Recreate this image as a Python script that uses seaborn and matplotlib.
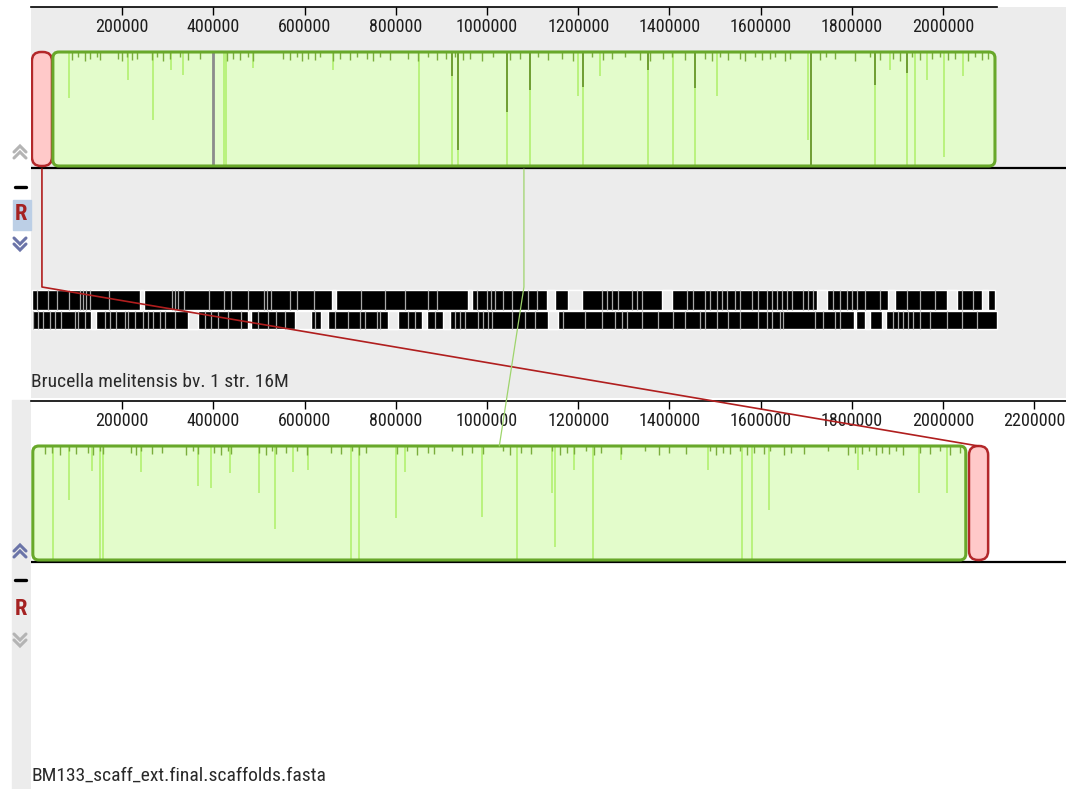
import matplotlib
matplotlib.use("Agg")
import matplotlib.pyplot as plt
import matplotlib.transforms as mtransforms
from matplotlib import font_manager
from matplotlib.patches import FancyBboxPatch, Rectangle
from matplotlib.lines import Line2D
import seaborn as sns

# ------------------------------------------------------------------ data
ref_name = "Brucella melitensis bv. 1 str. 16M"
qry_name = "BM133_scaff_ext.final.scaffolds.fasta"
ref_length = 2118000
top_ticks = [200000, 400000, 600000, 800000, 1000000, 1200000, 1400000,
             1600000, 1800000, 2000000]
bot_ticks = [200000, 400000, 600000, 800000, 1000000, 1200000, 1400000,
             1600000, 1800000, 2000000, 2200000]

# locally collinear blocks (kb): [red LCB, green LCB]
lcb_names = ["red", "green"]
ref_lcb_start_kb = [2, 48]
ref_lcb_end_kb = [46, 2114]
qry_lcb_start_kb = [2057, 4]
qry_lcb_end_kb = [2099, 2050]

# reference annotation track (forward / reverse genes), gaps between genes (kb)
fwd_track_kb = (2, 2114)
fwd_thin_gaps_kb = [13, 37, 57, 83, 107, 114, 121, 129, 171, 309, 316, 322, 336, 390,
                    423, 439, 476, 511, 518, 526, 568, 583, 620, 724, 776, 820, 871,
                    890, 978, 1000, 1009, 1018, 1035, 1055, 1090, 1110, 1252, 1263,
                    1274, 1287, 1318, 1329, 1340, 1439, 1452, 1478, 1489, 1504, 1515,
                    1526, 1544, 1555, 1581, 1594, 1614, 1625, 1636, 1647, 1658, 1669,
                    1693, 1704, 1715, 1759, 1774, 1789, 1800, 1811, 1829, 1862, 1921,
                    1950, 1982, 2042, 2066]
fwd_wide_gaps_kb = [(240, 247), (660, 668), (958, 968), (1132, 1149), (1178, 1208),
                    (1384, 1406), (1724, 1746), (1879, 1895), (2009, 2031), (2085, 2099)]
rev_track_kb = (2, 2118)
rev_thin_gaps_kb = [4, 15, 26, 42, 53, 66, 96, 103, 118, 162, 173, 186, 206, 213, 228,
                    246, 257, 268, 283, 294, 316, 382, 395, 410, 432, 461, 498, 520,
                    537, 557, 623, 667, 695, 721, 732, 759, 765, 827, 842, 886, 930,
                    941, 952, 980, 991, 1002, 1011, 1055, 1083, 1105, 1167, 1215, 1252,
                    1281, 1296, 1307, 1340, 1375, 1408, 1434, 1467, 1478, 1504, 1529,
                    1555, 1594, 1614, 1625, 1643, 1649, 1719, 1737, 1763, 1774, 1890,
                    1901, 1912, 1923, 1934, 1950, 1971, 2009, 2042, 2075]
rev_wide_gaps_kb = [(132, 143), (344, 366), (476, 482), (579, 614), (636, 651),
                    (783, 805), (857, 868), (903, 919), (1134, 1156), (1805, 1810),
                    (1829, 1840), (1866, 1875)]

# similarity profile of the green LCB, reference genome (kb, depth fraction)
top_light_partial_kb = [83, 213, 268, 307, 333, 487, 662, 1200, 1248, 1504, 1704,
                        1884, 1965, 2002, 2044]
top_light_partial_depth = [0.40, 0.25, 0.60, 0.16, 0.20, 0.14, 0.16, 0.39, 0.21,
                           0.39, 0.77, 0.16, 0.25, 0.92, 0.21]
top_light_full_kb = [423, 428, 851, 923, 936, 1044, 1094, 1211, 1353, 1408, 1456,
                     1851, 1921, 1939]
top_dark_kb = [923, 936, 1044, 1094, 1211, 1353, 1456, 1851, 1921, 1711]
top_dark_depth = [0.21, 0.86, 0.53, 0.33, 0.31, 0.16, 0.32, 0.29, 0.18, 1.0]
top_gray_kb = [399, 402]
top_fuzz = [(90, .05), (103, .03), (118, .06), (129, .04), (145, .03), (151, .05),
            (191, .04), (200, .06), (211, .03), (221, .05), (232, .04), (265, .05),
            (276, .03), (289, .06), (305, .04), (327, .03), (344, .05), (371, .04),
            (430, .06), (443, .04), (458, .05), (476, .03), (487, .06), (553, .04),
            (568, .05), (583, .03), (594, .06), (607, .04), (623, .05), (634, .03),
            (662, .06), (678, .04), (700, .05), (715, .03), (737, .04), (750, .06),
            (765, .03), (787, .05), (827, .04), (849, .06), (871, .03), (890, .05),
            (910, .04), (930, .03), (947, .05), (963, .04), (989, .06), (1013, .03),
            (1050, .05), (1072, .04), (1112, .03), (1134, .05), (1165, .04),
            (1189, .06), (1230, .03), (1254, .05), (1274, .04), (1303, .03),
            (1336, .05), (1357, .06), (1386, .04), (1406, .03), (1434, .05),
            (1478, .04), (1493, .06), (1511, .03), (1529, .05), (1555, .04),
            (1566, .06), (1588, .03), (1603, .05), (1621, .04), (1632, .03),
            (1654, .06), (1665, .04), (1730, .05), (1743, .03), (1763, .04),
            (1807, .06), (1840, .03), (1862, .05), (1890, .04), (1906, .06),
            (1932, .03), (1950, .05), (1976, .04), (1993, .03), (2011, .05),
            (2026, .04), (2055, .06), (2071, .03), (2085, .05), (2099, .04)]

# similarity profile of the green LCB, assembly
bot_light_partial_kb = [83, 134, 241, 366, 395, 436, 500, 535, 575, 607, 800, 820,
                        989, 1143, 1149, 1191, 1294, 1485, 1618, 1814, 1947, 2009]
bot_light_partial_depth = [0.47, 0.22, 0.23, 0.35, 0.37, 0.24, 0.41, 0.73, 0.23,
                           0.21, 0.63, 0.23, 0.62, 0.41, 0.89, 0.21, 0.12, 0.21,
                           0.56, 0.21, 0.41, 0.41]
bot_light_full_kb = [48, 151, 158, 702, 719, 1066, 1232, 1559, 1581]
bot_fuzz = [(31, .05), (46, .04), (64, .06), (83, .03), (99, .05), (125, .04),
            (136, .06), (151, .03), (158, .05), (219, .04), (230, .06), (241, .03),
            (265, .05), (287, .04), (340, .06), (355, .03), (366, .05), (401, .04),
            (417, .06), (432, .03), (439, .05), (500, .04), (515, .06), (529, .03),
            (537, .05), (559, .04), (583, .03), (605, .06), (658, .04), (680, .05),
            (704, .03), (719, .06), (735, .04), (803, .05), (825, .03), (847, .06),
            (871, .04), (884, .05), (923, .03), (945, .06), (967, .04), (991, .05),
            (1035, .03), (1050, .06), (1075, .04), (1097, .05), (1143, .03),
            (1160, .06), (1175, .04), (1191, .05), (1217, .03), (1235, .06),
            (1250, .04), (1294, .05), (1347, .03), (1377, .06), (1399, .04),
            (1436, .05), (1489, .03), (1502, .06), (1518, .04), (1533, .05),
            (1555, .03), (1570, .06), (1586, .04), (1607, .05), (1621, .03),
            (1651, .06), (1667, .04), (1695, .05), (1748, .03), (1792, .06),
            (1807, .04), (1822, .05), (1838, .03), (1853, .06), (1866, .04),
            (1882, .05), (1897, .03), (1912, .06), (1950, .04), (1971, .05),
            (1993, .03), (2015, .06), (2037, .04)]

# ------------------------------------------------------------------ style
sns.set_theme(style="white")
fonts = font_manager.fontManager.ttflist
names = {f.name for f in fonts}
dejavu_cond = any(f.name == "DejaVu Sans" and "condensed" in str(f.stretch).lower()
                  for f in fonts)
STRETCH = "normal"
if "Liberation Sans Narrow" in names:
    FAM, FS, FL = "Liberation Sans Narrow", 1.0, 0.97
elif "Roboto Condensed" in names:
    FAM, FS, FL = "Roboto Condensed", 0.95, 0.91
elif dejavu_cond:
    FAM, FS, FL, STRETCH = "DejaVu Sans", 0.82, 0.80, "condensed"
else:
    FAM, FS, FL = "DejaVu Sans", 0.74, 0.72
plt.rcParams["font.family"] = [FAM, "DejaVu Sans"]
plt.rcParams["font.stretch"] = STRETCH

W, H = 1066, 789
BP_PER_PX = 2193.0
fig = plt.figure(figsize=(W / 100, H / 100), dpi=100, facecolor="white")


def fig_rect(x0, y0, x1, y1):
    return [x0 / W, 1 - y1 / H, (x1 - x0) / W, (y1 - y0) / H]


ax_top = fig.add_axes(fig_rect(31, 7, 1066, 398))
ax_bot = fig.add_axes(fig_rect(31, 401, 1066, 789))
XMAX = (1066 - 31) * BP_PER_PX

LCB_FACE = {"red": "#ffc9c9", "green": "#e3fccb"}
LCB_EDGE = {"red": "#b3282a", "green": "#68a82a"}
LCB_RAD = {"red": 9, "green": 6}
LCB_LW = {"red": 1.8, "green": 2.2}
BLOCK_Y, BLOCK_H = 45, 114
BASE_Y = 161

for ax, ylim_top, bg in [(ax_top, 391, "#ececec"), (ax_bot, 388, "white")]:
    ax.set_facecolor(bg)
    ax.set_xlim(0, XMAX)
    ax.set_ylim(ylim_top, 0)
    ax.set_yticks([])
    for s in ["left", "right", "bottom"]:
        ax.spines[s].set_visible(False)
    ax.spines["top"].set_color("black")
    ax.spines["top"].set_linewidth(1.2)
    ax.xaxis.tick_top()
    ax.tick_params(axis="x", which="major", top=True, bottom=False, labeltop=True,
                   labelbottom=False, direction="in", length=6, width=1,
                   color="black", pad=-(20 * FS + 2), labelsize=13.7 * FS,
                   labelcolor="#1e1e1e")
    ax.axhline(BASE_Y, color="black", lw=1.6, zorder=4)

ax_top.set_xticks(top_ticks)
ax_top.set_xticklabels([str(t) for t in top_ticks])
ax_top.spines["top"].set_bounds(0, ref_length)
ax_bot.set_xticks(bot_ticks)
ax_bot.set_xticklabels([str(t) for t in bot_ticks])
ax_bot.spines["top"].set_bounds(0, XMAX)


def draw_block(ax, start_kb, end_kb, kind):
    s, e = start_kb * 1000, end_kb * 1000
    r = LCB_RAD[kind] * BP_PER_PX
    style = f"round,pad=0,rounding_size={r}"
    fill = FancyBboxPatch((s, BLOCK_Y), e - s, BLOCK_H, boxstyle=style,
                          mutation_aspect=1 / BP_PER_PX, fc=LCB_FACE[kind],
                          ec="none", zorder=1)
    ax.add_patch(fill)
    edge = FancyBboxPatch((s, BLOCK_Y), e - s, BLOCK_H, boxstyle=style,
                          mutation_aspect=1 / BP_PER_PX, fc="none",
                          ec=LCB_EDGE[kind], lw=LCB_LW[kind], zorder=5)
    ax.add_patch(edge)
    return fill


def draw_profile(ax, clip, light_p, light_d, light_full, dark=None, dark_d=None,
                 gray=None, fuzz=None):
    arts = []
    y0 = BLOCK_Y
    arts.append(ax.vlines([k * 1000 for k in light_full], y0, y0 + BLOCK_H,
                          color="#aeef68", lw=1.1, zorder=2))
    arts.append(ax.vlines([k * 1000 for k in light_p], y0,
                          [y0 + d * BLOCK_H for d in light_d],
                          color="#aeef68", lw=1.1, zorder=2))
    if dark:
        arts.append(ax.vlines([k * 1000 for k in dark], y0,
                              [y0 + d * BLOCK_H for d in dark_d],
                              color="#6f9e33", lw=1.4, zorder=3))
    if gray:
        arts.append(ax.vlines([k * 1000 for k in gray], y0, y0 + BLOCK_H,
                              color="#8c8c8c", lw=1.3, zorder=3))
    if fuzz:
        arts.append(ax.vlines([k * 1000 for k, _ in fuzz], y0,
                              [y0 + 2 + d * BLOCK_H for _, d in fuzz],
                              color="#7aad3c", lw=1.0, zorder=3))
    for a in arts:
        a.set_clip_path(clip)


# reference genome blocks
fills_top = {}
for name, s, e in zip(lcb_names, ref_lcb_start_kb, ref_lcb_end_kb):
    fills_top[name] = draw_block(ax_top, s, e, name)
draw_profile(ax_top, fills_top["green"], top_light_partial_kb, top_light_partial_depth,
             top_light_full_kb, top_dark_kb, top_dark_depth, top_gray_kb, top_fuzz)

# assembly blocks
fills_bot = {}
for name, s, e in zip(lcb_names, qry_lcb_start_kb, qry_lcb_end_kb):
    fills_bot[name] = draw_block(ax_bot, s, e, name)
draw_profile(ax_bot, fills_bot["green"], bot_light_partial_kb, bot_light_partial_depth,
             bot_light_full_kb, fuzz=bot_fuzz)


# annotation track
def draw_track(ax, span, thin, wide, y0, h):
    ax.barh(y0 + h / 2, (span[1] - span[0]) * 1000, left=span[0] * 1000, height=h,
            color="black", zorder=2)
    ax.vlines([k * 1000 for k in thin], y0, y0 + h, color="#a8a8a8", lw=0.9, zorder=3)
    for a, b in wide:
        ax.barh(y0 + h / 2, (b - a) * 1000, left=a * 1000, height=h,
                color="#ececec", zorder=3)


draw_track(ax_top, fwd_track_kb, fwd_thin_gaps_kb, fwd_wide_gaps_kb, 283, 20)
draw_track(ax_top, rev_track_kb, rev_thin_gaps_kb, rev_wide_gaps_kb, 304, 18)

# genome names
ax_top.text(1000, 375, ref_name, ha="left", va="center", fontsize=15.4 * FL,
            color="#2a2a2a", zorder=6)
ax_bot.text(1000, 375, qry_name, ha="left", va="center", fontsize=15.4 * FL,
            color="#2a2a2a", zorder=6)

# LCB connection lines
to_fig = fig.transFigure.inverted()
LINE_C = {"red": "#b01e1e", "green": "#9ed46c"}
LINE_W = {"red": 1.2, "green": 0.9}
for name, rs, re_, qs, qe in zip(lcb_names, ref_lcb_start_kb, ref_lcb_end_kb,
                                 qry_lcb_start_kb, qry_lcb_end_kb):
    rc = (rs + re_) / 2 * 1000
    qc = (qs + qe) / 2 * 1000
    p1 = to_fig.transform(ax_top.transData.transform((rc, BASE_Y + 1)))
    p2 = to_fig.transform(ax_top.transData.transform((rc, 280)))
    p3 = to_fig.transform(ax_bot.transData.transform((qc, BLOCK_Y)))
    fig.add_artist(Line2D([p1[0], p2[0], p3[0]], [p1[1], p2[1], p3[1]],
                          transform=fig.transFigure, color=LINE_C[name],
                          lw=LINE_W[name], zorder=20))

# ------------------------------------------------------------------ side controls
tr_px = mtransforms.Affine2D().scale(1 / W, -1 / H).translate(0, 1) + fig.transFigure
fig.add_artist(Rectangle((12, 400), 19, 389, transform=tr_px, color="#ececec",
                         zorder=0))
fig.add_artist(Rectangle((13, 200), 18, 30, transform=tr_px, color="#bccfe6",
                         zorder=1))


def chevron(x, y, up, color):
    d = -1 if up else 1
    for off in (0, 6):
        yy = y + (off if up else -off)
        fig.add_artist(Line2D([x - 6, x, x + 6], [yy, yy + 6 * d, yy],
                              transform=tr_px, color=color, lw=2.2,
                              solid_joinstyle="miter", zorder=2))


chevron(20, 152, True, "#b4b4b4")
chevron(20, 244, False, "#6b74a8")
chevron(20, 551, True, "#6b74a8")
chevron(20, 640, False, "#b4b4b4")
for yy in (187, 580):
    fig.add_artist(Line2D([15, 26], [yy, yy], transform=tr_px, color="black", lw=2.4,
                          zorder=2))
for yy in (214, 609):
    fig.text(21 / W, 1 - yy / H, "R", ha="center", va="center",
             fontsize=17 * FS, fontweight="bold", color="#a52222", zorder=3)

fig.savefig("out.png", dpi=100, facecolor="white")
